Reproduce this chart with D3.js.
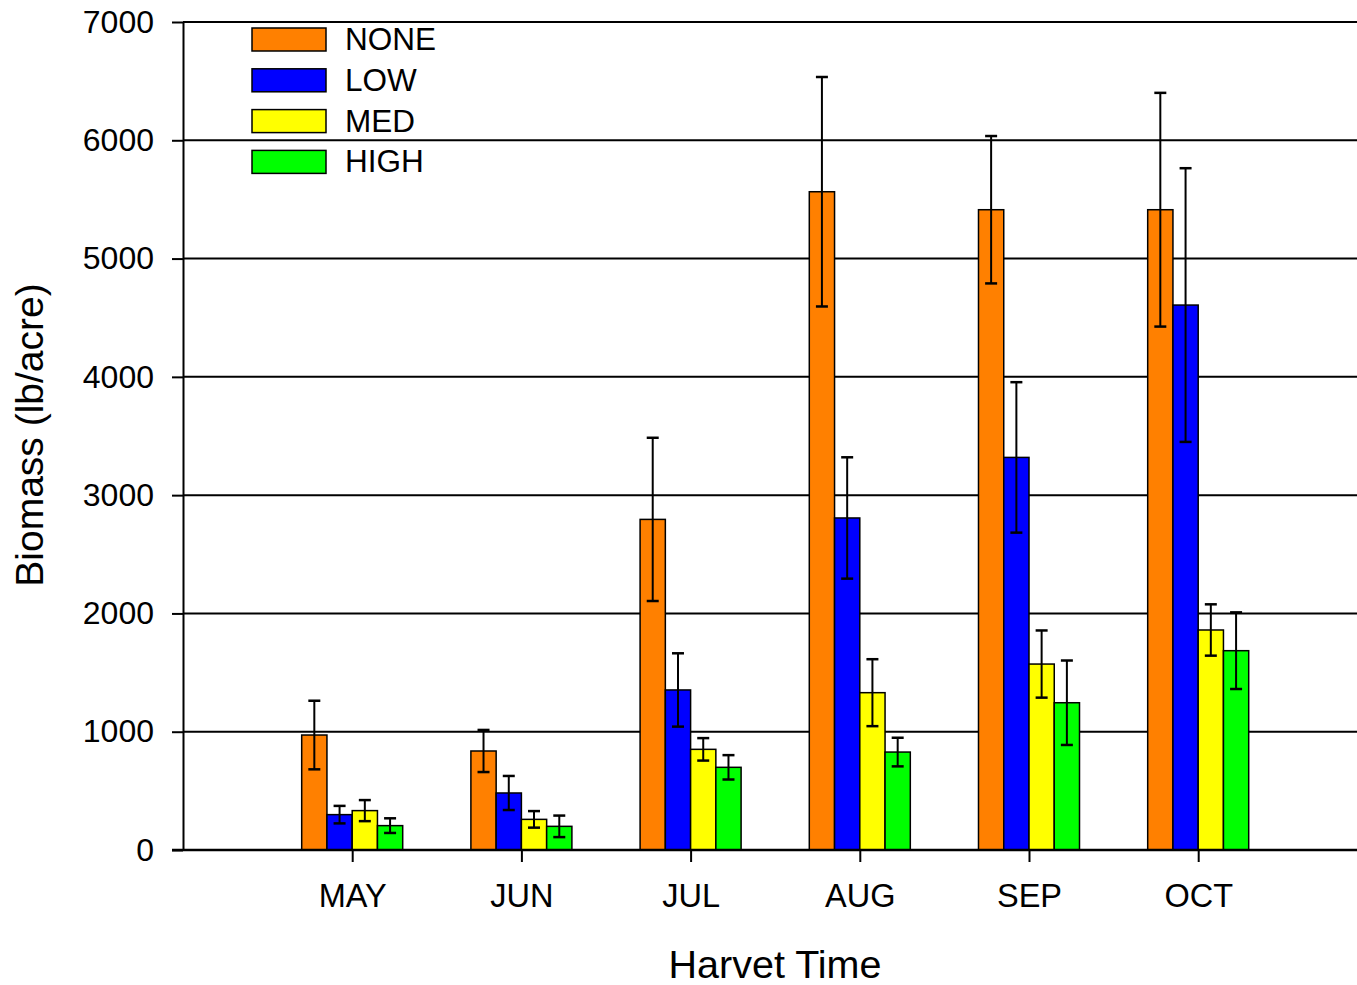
<!DOCTYPE html>
<html lang="en">
<head>
    <meta charset="UTF-8">
    <title>Biomass by harvest time</title>
    <script src="https://cdn.jsdelivr.net/npm/d3@7"></script>
    <style>
        body { margin: 0; background: #fff; }
        text { font-family: "Liberation Sans", Arial, sans-serif; fill: #000; }
    </style>
</head>
<body>
    <div id="chart"></div>
    <script>
        // values
        var months = ["MAY", "JUN", "JUL", "AUG", "SEP", "OCT"];
        var series = ["NONE", "LOW", "MED", "HIGH"];
        var colors = ["#ff8000", "#0000ff", "#ffff00", "#00ff00"];
        var yTicks = [0, 1000, 2000, 3000, 4000, 5000, 6000, 7000];

        var none    = [972, 837, 2795, 5565, 5413, 5413];
        var noneErr = [290, 178, 690, 970, 623, 988];
        var low     = [299, 482, 1353, 2807, 3319, 4607];
        var lowErr  = [74, 144, 310, 513, 636, 1157];
        var med     = [333, 259, 851, 1330, 1572, 1860];
        var medErr  = [89, 70, 95, 283, 284, 217];
        var high    = [206, 200, 699, 828, 1245, 1685];
        var highErr = [62, 91, 103, 121, 357, 324];

        var values = [none, low, med, high];
        var errors = [noneErr, lowErr, medErr, highErr];

        var width = 1357, height = 985;
        var plotLeft = 183, plotTop = 22, plotBottom = 850;

        var svg = d3.select("#chart")
            .append("svg")
            .attr("width", width)
            .attr("height", height);

        // months sit at 1..6 on a 0..7 axis (the right end is cut off by the window)
        var x = d3.scaleLinear().domain([0, 7]).range([plotLeft, plotLeft + 7 * 169.2]);
        var y = d3.scaleLinear().domain([0, 7000]).range([plotBottom, plotTop]);
        var groupW = (x(1) - x(0)) * 0.597;
        var xSub = d3.scaleBand().domain(series).range([-groupW / 2, groupW / 2]);

        // grid lines
        svg.append("g")
            .selectAll("line")
            .data(yTicks.slice(1))
            .enter()
            .append("line")
            .attr("x1", plotLeft)
            .attr("x2", width)
            .attr("y1", function(d) { return y(d); })
            .attr("y2", function(d) { return y(d); })
            .style("stroke", "#000")
            .style("stroke-width", 2);

        // table of rows for the bars
        var rows = [];
        months.forEach(function(m, i) {
            series.forEach(function(s, j) {
                rows.push({ i: i, s: s, j: j, v: values[j][i], e: errors[j][i] });
            });
        });

        svg.append("g")
            .selectAll("rect")
            .data(rows)
            .enter()
            .append("rect")
            .attr("x", function(d) { return x(d.i + 1) + xSub(d.s); })
            .attr("y", function(d) { return y(d.v); })
            .attr("width", xSub.bandwidth())
            .attr("height", function(d) { return y(0) - y(d.v); })
            .style("fill", function(d) { return colors[d.j]; })
            .style("stroke", "#000")
            .style("stroke-width", 1.5);

        // error bars
        var err = svg.append("g")
            .selectAll("g")
            .data(rows)
            .enter()
            .append("g")
            .attr("transform", function(d) {
                return "translate(" + (x(d.i + 1) + xSub(d.s) + xSub.bandwidth() / 2) + ",0)";
            })
            .style("stroke", "#000");

        err.append("line")
            .attr("y1", function(d) { return y(d.v - d.e); })
            .attr("y2", function(d) { return y(d.v + d.e); })
            .style("stroke-width", 2);
        err.append("line")
            .attr("x1", -6).attr("x2", 6)
            .attr("y1", function(d) { return y(d.v + d.e); })
            .attr("y2", function(d) { return y(d.v + d.e); })
            .style("stroke-width", 2.5);
        err.append("line")
            .attr("x1", -6).attr("x2", 6)
            .attr("y1", function(d) { return y(d.v - d.e); })
            .attr("y2", function(d) { return y(d.v - d.e); })
            .style("stroke-width", 2.5);

        // y axis
        var yAxis = svg.append("g")
            .attr("transform", "translate(" + plotLeft + ",0)")
            .call(d3.axisLeft(y).tickValues(yTicks).tickFormat(d3.format("d"))
                .tickSize(11).tickPadding(18).tickSizeOuter(0));
        yAxis.select(".domain").style("stroke-width", 2);
        yAxis.selectAll(".tick line").style("stroke-width", 2);
        yAxis.selectAll("text")
            .attr("font-size", "32px")
            .style("font-family", "'Liberation Sans', Arial, sans-serif");

        // x axis
        var xAxis = svg.append("g")
            .attr("transform", "translate(0," + plotBottom + ")")
            .call(d3.axisBottom(x).tickValues(d3.range(1, 7)).tickSize(12).tickPadding(22)
                .tickSizeOuter(0)
                .tickFormat(function(d) { return months[d - 1]; }));
        xAxis.select(".domain").attr("d", "M172,0H" + width).style("stroke-width", 2.5);
        xAxis.selectAll(".tick line").style("stroke-width", 2);
        xAxis.selectAll("text")
            .attr("font-size", "32.5px")
            .style("font-family", "'Liberation Sans', Arial, sans-serif");

        // axis titles
        svg.append("text")
            .attr("transform", "translate(43,435) rotate(-90)")
            .attr("text-anchor", "middle")
            .attr("font-size", "39px")
            .text("Biomass (lb/acre)");

        svg.append("text")
            .attr("x", 775)
            .attr("y", 978)
            .attr("text-anchor", "middle")
            .attr("font-size", "39.5px")
            .text("Harvet Time");

        // legend
        var legend = svg.append("g")
            .selectAll("g")
            .data(series)
            .enter()
            .append("g")
            .attr("transform", function(d, i) { return "translate(252," + (28 + i * 40.8) + ")"; });

        legend.append("rect")
            .attr("width", 74)
            .attr("height", 23)
            .style("fill", function(d, i) { return colors[i]; })
            .style("stroke", "#000")
            .style("stroke-width", 1.5);

        legend.append("text")
            .attr("x", 93)
            .attr("y", 22)
            .attr("font-size", "31.5px")
            .text(function(d) { return d; });
    </script>
</body>
</html>
